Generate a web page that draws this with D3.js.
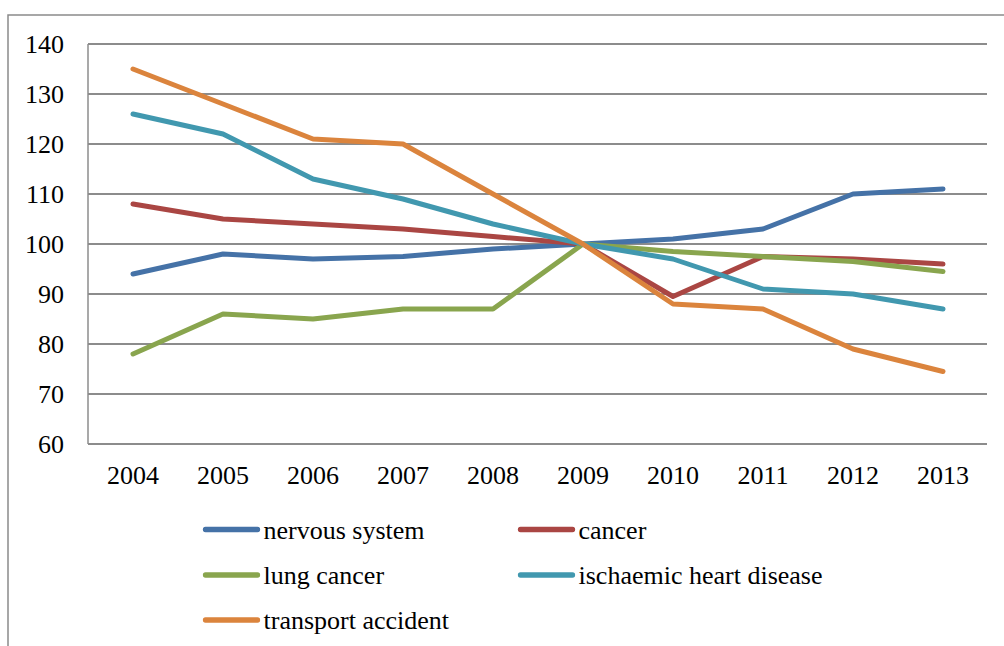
<!DOCTYPE html>
<html><head><meta charset="utf-8">
<script src="https://cdn.jsdelivr.net/npm/d3@7"></script>
<style>body{margin:0;background:#fff}svg{display:block}</style>
</head><body>
<script>
const years = ["2004","2005","2006","2007","2008","2009","2010","2011","2012","2013"];
const nervous = [94, 98, 97, 97.5, 99, 100, 101, 103, 110, 111];
const cancer = [108, 105, 104, 103, 101.5, 100, 89.5, 97.5, 97, 96];
const lungCancer = [78, 86, 85, 87, 87, 100, 98.5, 97.5, 96.5, 94.5];
const ischaemic = [126, 122, 113, 109, 104, 100, 97, 91, 90, 87];
const transport = [135, 128, 121, 120, 110, 100, 88, 87, 79, 74.5];
const yTicks = [60, 70, 80, 90, 100, 110, 120, 130, 140];
const seriesNames = ["nervous system","cancer","lung cancer","ischaemic heart disease","transport accident"];
const colors = ["#4572A7","#AA4643","#89A54E","#4198AF","#DB843D"];
const series = [nervous, cancer, lungCancer, ischaemic, transport].map((v,i)=>({name:seriesNames[i], values:v, color:colors[i]}));

(function(){
const W=1004,H=646;
const FONT='"Liberation Serif"';
const svg=d3.select("body").append("svg").attr("width",W).attr("height",H);

// outer frame
svg.append("rect").attr("x",8).attr("y",15).attr("width",W).attr("height",H)
  .attr("fill","none").attr("stroke","#8a8a8a").attr("stroke-width",1.5);

const pL=88,pR=988,pT=44,pB=444;
const x=d3.scaleBand().domain(years).range([pL,pR]);
const y=d3.scaleLinear().domain([60,140]).range([pB,pT]);

// gridlines
svg.append("g").selectAll("line").data(yTicks).join("line")
  .attr("x1",pL).attr("x2",pR-1)
  .attr("y1",d=>y(d)).attr("y2",d=>y(d))
  .attr("stroke","#8c8c8c").attr("stroke-width",1.8);

// y axis line
svg.append("line").attr("x1",pL).attr("x2",pL).attr("y1",pT).attr("y2",pB)
  .attr("stroke","#8c8c8c").attr("stroke-width",1.5);

// y labels
const yAxis=d3.axisLeft(y).tickValues(yTicks).tickSize(0).tickPadding(24);
const gy=svg.append("g").attr("transform",`translate(${pL},0)`).call(yAxis);
gy.select(".domain").remove();
gy.selectAll("text").style("font-family",FONT).style("font-size","26px").attr("fill","#000");

// x labels
const xAxis=d3.axisBottom(x).tickSize(0).tickPadding(22);
const gx=svg.append("g").attr("transform",`translate(0,${pB})`).call(xAxis);
gx.select(".domain").remove();
gx.selectAll("text").style("font-family",FONT).style("font-size","26px").attr("fill","#000");

// lines
const line=d3.line().x((d,i)=>x(years[i])+x.bandwidth()/2).y(d=>y(d));
svg.append("g").selectAll("path").data(series).join("path")
  .attr("d",d=>line(d.values)).attr("fill","none")
  .attr("stroke",d=>d.color).attr("stroke-width",5)
  .attr("stroke-linecap","round").attr("stroke-linejoin","round");

// legend
const legPos=[[205.5,529.5],[520.5,529.5],[205.5,575],[520.5,575],[205.5,620]];
const lg=svg.append("g").selectAll("g").data(series).join("g")
  .attr("transform",(d,i)=>`translate(${legPos[i][0]},${legPos[i][1]})`);
lg.append("line").attr("x1",0).attr("x2",52).attr("y1",0).attr("y2",0)
  .attr("stroke",d=>d.color).attr("stroke-width",5.3).attr("stroke-linecap","round");
lg.append("text").attr("x",58).attr("y",9).text(d=>d.name)
  .style("font-family",FONT).style("font-size","26px").attr("fill","#000");
})();
</script>
</body></html>
